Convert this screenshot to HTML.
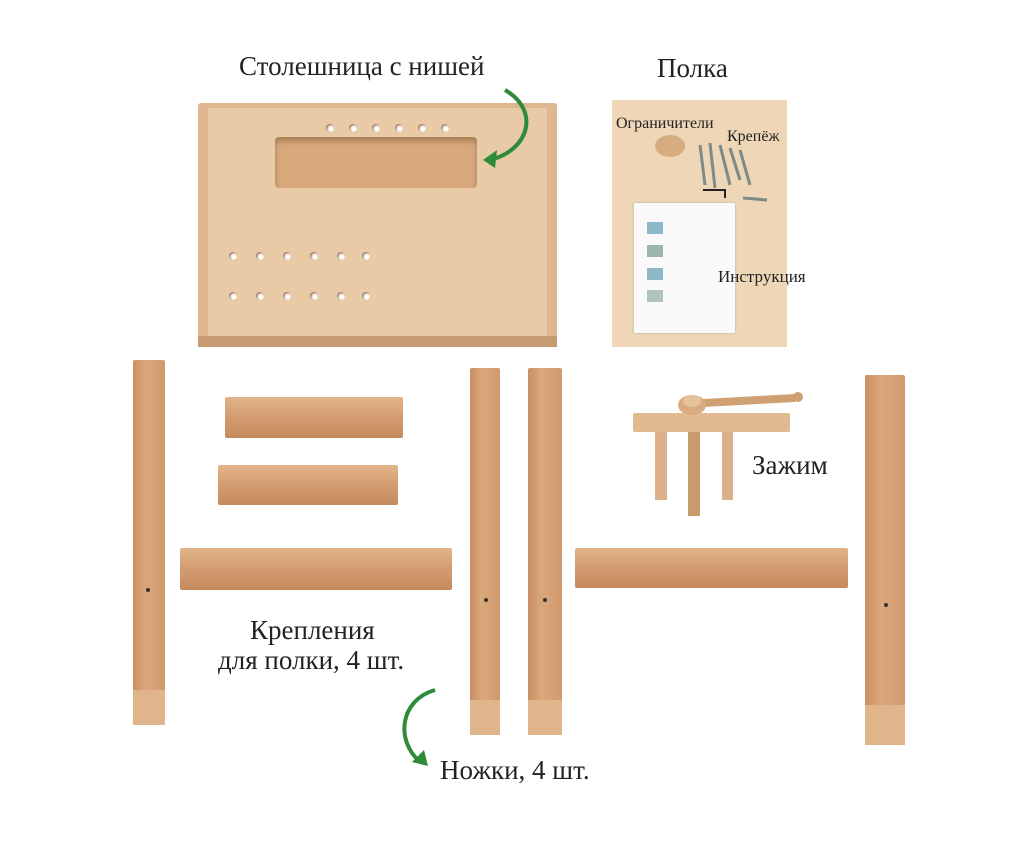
<!DOCTYPE html>
<html><head><meta charset="utf-8"><style>
body{margin:0;width:1013px;height:851px;background:#fff;position:relative;overflow:hidden;font-family:"Liberation Serif","Noto Serif CJK SC",serif;color:#222}
.a{position:absolute}
.t{position:absolute;white-space:nowrap}
.leg{position:absolute;background:linear-gradient(90deg,#c98f62,#dba77c 40%,#d19a6d);border-radius:2px}
.rail{position:absolute;background:linear-gradient(180deg,#e2b48a,#d39c70 50%,#c48a5e);border-radius:2px}
.h{position:absolute;width:8px;height:8px;border-radius:50%;background:#fff;box-shadow:inset 1px 1px 2px #8a6040}
</style></head><body>
<div class="t" style="left:239px;top:51px;font-size:27px">Столешница с нишей</div>
<div class="t" style="left:657px;top:53px;font-size:27px">Полка</div>
<!-- tabletop -->
<div class="a" style="left:198px;top:103px;width:359px;height:244px;background:#deb791;border-radius:3px"></div>
<div class="a" style="left:208px;top:108px;width:339px;height:230px;background:#e8cba6"></div>
<div class="a" style="left:198px;top:336px;width:359px;height:11px;background:#c89a72"></div>
<div class="a" style="left:275px;top:137px;width:202px;height:51px;background:#d7a97c;border-radius:4px;box-shadow:inset 0 4px 6px #a97c55"></div>
<div class="h" style="left:326px;top:124px"></div><div class="h" style="left:349px;top:124px"></div><div class="h" style="left:372px;top:124px"></div><div class="h" style="left:395px;top:124px"></div><div class="h" style="left:418px;top:124px"></div><div class="h" style="left:441px;top:124px"></div>
<div class="h" style="left:229px;top:252px"></div><div class="h" style="left:256px;top:252px"></div><div class="h" style="left:283px;top:252px"></div><div class="h" style="left:310px;top:252px"></div><div class="h" style="left:337px;top:252px"></div><div class="h" style="left:362px;top:252px"></div>
<div class="h" style="left:229px;top:292px"></div><div class="h" style="left:256px;top:292px"></div><div class="h" style="left:283px;top:292px"></div><div class="h" style="left:310px;top:292px"></div><div class="h" style="left:337px;top:292px"></div><div class="h" style="left:362px;top:292px"></div>
<!-- shelf -->
<div class="a" style="left:612px;top:100px;width:175px;height:247px;background:#eed6b6"></div>
<div class="a" style="left:655px;top:135px;width:30px;height:22px;background:#d7ac80;border-radius:50%"></div>
<svg class="a" style="left:695px;top:140px" width="75" height="65"><g stroke="#7d8a88" stroke-width="3"><line x1="5" y1="5" x2="10" y2="45"/><line x1="15" y1="3" x2="20" y2="48"/><line x1="25" y1="5" x2="35" y2="45"/><line x1="35" y1="8" x2="45" y2="40"/><line x1="45" y1="10" x2="55" y2="45"/><line x1="48" y1="58" x2="72" y2="60"/></g><path d="M8 50 L30 50 L30 58" stroke="#222" stroke-width="2" fill="none"/></svg>
<div class="a" style="left:634px;top:203px;width:101px;height:130px;background:#fafafa;box-shadow:0 0 2px #aaa"></div>
<div class="a" style="left:647px;top:222px;width:16px;height:12px;background:#8fb8c8"></div>
<div class="a" style="left:647px;top:245px;width:16px;height:12px;background:#9ab7b0"></div>
<div class="a" style="left:647px;top:268px;width:16px;height:12px;background:#8fb8c8"></div>
<div class="a" style="left:647px;top:290px;width:16px;height:12px;background:#b0c4c0"></div>
<div class="t" style="left:616px;top:115px;font-size:16px">Ограничители</div>
<div class="t" style="left:727px;top:128px;font-size:16px">Крепёж</div>
<div class="t" style="left:718px;top:267px;font-size:17px">Инструкция</div>
<!-- legs -->
<div class="leg" style="left:133px;top:360px;width:32px;height:365px"></div>
<div class="leg" style="left:470px;top:368px;width:30px;height:367px"></div>
<div class="leg" style="left:528px;top:368px;width:34px;height:367px"></div>
<div class="leg" style="left:865px;top:375px;width:40px;height:370px"></div>
<div class="a" style="left:133px;top:690px;width:32px;height:35px;background:#e0b58c"></div>
<div class="a" style="left:470px;top:700px;width:30px;height:35px;background:#e0b58c"></div>
<div class="a" style="left:528px;top:700px;width:34px;height:35px;background:#e0b58c"></div>
<div class="a" style="left:865px;top:705px;width:40px;height:40px;background:#e0b58c"></div>
<div class="a" style="left:146px;top:588px;width:4px;height:4px;border-radius:50%;background:#333"></div>
<div class="a" style="left:484px;top:598px;width:4px;height:4px;border-radius:50%;background:#333"></div>
<div class="a" style="left:543px;top:598px;width:4px;height:4px;border-radius:50%;background:#333"></div>
<div class="a" style="left:884px;top:603px;width:4px;height:4px;border-radius:50%;background:#333"></div>
<!-- rails -->
<div class="rail" style="left:225px;top:397px;width:178px;height:41px"></div>
<div class="rail" style="left:218px;top:465px;width:180px;height:40px"></div>
<div class="rail" style="left:180px;top:548px;width:272px;height:42px"></div>
<div class="rail" style="left:575px;top:548px;width:273px;height:40px"></div>
<!-- clamp -->
<div class="a" style="left:655px;top:430px;width:12px;height:70px;background:#dcb088"></div>
<div class="a" style="left:722px;top:430px;width:11px;height:70px;background:#dcb088"></div>
<div class="a" style="left:688px;top:420px;width:12px;height:96px;background:#c99a6c"></div>
<div class="a" style="left:633px;top:413px;width:157px;height:19px;background:#e2ba90;border-radius:2px"></div>
<svg class="a" style="left:675px;top:388px" width="135" height="32"><path d="M10 12 L120 6 L120 14 L10 20 Z" fill="#cfa074"/><circle cx="123" cy="9" r="5" fill="#cfa074"/><ellipse cx="17" cy="17" rx="14" ry="10" fill="#d8ac80"/><ellipse cx="17" cy="13" rx="9" ry="6" fill="#e6c29c"/></svg>
<div class="t" style="left:752px;top:450px;font-size:27px">Зажим</div>
<div class="t" style="left:250px;top:615px;font-size:27px">Крепления</div>
<div class="t" style="left:218px;top:645px;font-size:27px">для полки, 4 шт.</div>
<div class="t" style="left:440px;top:755px;font-size:27px">Ножки, 4 шт.</div>
<svg class="a" style="left:0;top:0" width="1013" height="851">
<path d="M505 90 C540 110 530 150 490 160" stroke="#2e8b3a" stroke-width="4" fill="none"/>
<path d="M483 160 L497 150 L495 168 Z" fill="#2e8b3a"/>
<path d="M435 690 C400 700 395 740 420 762" stroke="#2e8b3a" stroke-width="4" fill="none"/>
<path d="M428 766 L412 762 L424 750 Z" fill="#2e8b3a"/>
</svg>
</body></html>
